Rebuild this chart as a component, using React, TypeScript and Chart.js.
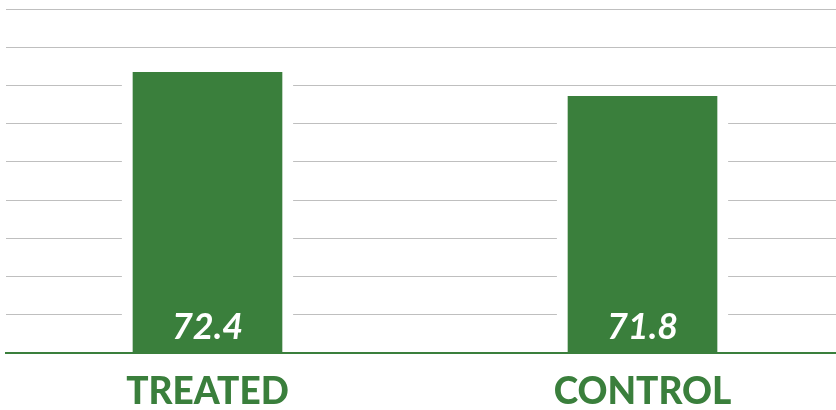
import { useEffect, useRef } from 'react';
import { Chart, registerables } from 'chart.js';

Chart.register(...registerables);

const categories = ['TREATED', 'CONTROL'];
const values = [72.4, 71.8];
const valueLabels = ['72.4', '71.8'];
const categoryIndex = [0, 1];
const yMin = 65.39;
const yMax = 73.97;
const gridLineCount = 10;
const xMin = -0.4632;
const xMax = 1.4448;

const GREEN = '#3a7f3c';

const valueLabelPlugin = {
  id: 'valueLabels',
  afterDatasetsDraw(chart: any) {
    const ctx = chart.ctx;
    const meta = chart.getDatasetMeta(0);
    const bottom = chart.chartArea.bottom;
    ctx.save();
    ctx.fillStyle = '#ffffff';
    ctx.font = 'italic bold 36px Lato';
    ctx.textAlign = 'center';
    ctx.textBaseline = 'alphabetic';
    meta.data.forEach((bar: any, i: number) => {
      ctx.fillText(valueLabels[i], bar.x, bottom - 14);
    });
    ctx.restore();
  },
};

export default function App() {
  const ref = useRef<HTMLCanvasElement | null>(null);

  useEffect(() => {
    document.body.style.margin = '0';
    const canvas = ref.current!;
    const chart = new Chart(canvas, {
      type: 'bar',
      data: {
        datasets: [
          {
            data: categoryIndex.map((x, i) => ({ x, y: values[i] })),
            backgroundColor: GREEN,
            borderColor: '#ffffff',
            borderWidth: { left: 11, right: 11, top: 0, bottom: 0 },
            borderSkipped: 'start',
            barThickness: 171,
          } as any,
        ],
      },
      options: {
        animation: false,
        responsive: false,
        maintainAspectRatio: false,
        layout: { padding: { left: 6, right: 0, top: 9, bottom: 0 } },
        plugins: {
          legend: { display: false },
          tooltip: { enabled: false },
        },
        scales: {
          x: {
            type: 'linear',
            offset: false,
            min: xMin,
            max: xMax,
            afterBuildTicks: (scale: any) => {
              scale.ticks = categoryIndex.map((v) => ({ value: v }));
            },
            afterFit: (scale: any) => {
              scale.height = 57;
            },
            grid: { display: false, drawTicks: false, offset: false },
            border: { display: true, color: GREEN, width: 2, z: 1 },
            ticks: {
              autoSkip: false,
              maxRotation: 0,
              minRotation: 0,
              padding: 17,
              color: GREEN,
              font: { family: 'Lato', size: 37, weight: '900' },
              callback: (v: any) => categories[Number(v)] ?? '',
            },
          },
          y: {
            type: 'linear',
            min: yMin,
            max: yMax,
            afterFit: (scale: any) => {
              scale.width = 0;
            },
            grid: { color: '#bfbfbf', lineWidth: 1, drawTicks: false },
            border: { display: false },
            ticks: { display: false, count: gridLineCount },
          },
        },
      } as any,
      plugins: [valueLabelPlugin],
    });
    return () => chart.destroy();
  }, []);

  return (
    <div style={{ width: 836, height: 410 }}>
      <canvas ref={ref} width={836} height={410} style={{ display: 'block' }} />
    </div>
  );
}
